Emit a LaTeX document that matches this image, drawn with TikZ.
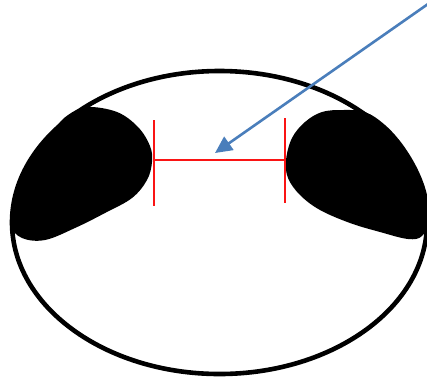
\documentclass[tikz,border=0pt]{standalone}
\usetikzlibrary{arrows.meta}
\definecolor{officeblue}{RGB}{74,126,187}
\definecolor{mred}{RGB}{250,20,20}
\tikzset{
  outline/.style={line width=4.6pt, draw=black},
  blob/.style={fill=black, draw=none},
  redline/.style={draw=mred, line width=2pt},
  bluearrow/.style={draw=officeblue, line width=2.6pt, -{Triangle[length=17pt,width=16pt]}}
}
\begin{document}
\begin{tikzpicture}[x=1pt,y=-1pt]
\useasboundingbox (0,0) rectangle (427,381);
\begin{scope}
\clip (0,0) rectangle (427,381);
\draw[outline] (219.5,222.5) ellipse [x radius=207.5, y radius=151.5];
\fill[blob] plot[smooth cycle, tension=0.6] coordinates {(87,107) (117,112) (138,127) (150,146) (152,162) (147,180) (132,198) (105,213) (75,228) (45,240) (22,238) (11,225) (14,200) (24,175) (38,150) (55,128) (68,115)};
\fill[blob] plot[smooth cycle, tension=0.6] coordinates {(343,110) (365,112) (385,125) (403,145) (418,170) (427,195) (429,220) (422,236) (408,239) (380,232) (350,223) (320,210) (300,195) (288,178) (286,160) (292,138) (305,122) (322,112)};
\coordinate (lt) at (154,120);
\coordinate (lb) at (154,206);
\coordinate (rt) at (285,118);
\coordinate (rb) at (285,203);
\coordinate (lm) at (154,160);
\coordinate (rm) at (285,160);
\draw[redline] (lm) -- (rm);
\draw[redline] (lt) -- (lb);
\draw[redline] (rt) -- (rb);
\coordinate (as) at (428,4);
\coordinate (at) at (215,153);
\draw[bluearrow] (as) -- (at);
\end{scope}
\end{tikzpicture}
\end{document}
